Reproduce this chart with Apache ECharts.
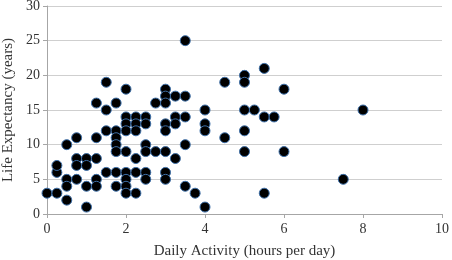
<!DOCTYPE html>
<html>
<head>
<meta charset="utf-8">
<script src="https://cdn.jsdelivr.net/npm/echarts@6/dist/echarts.min.js"></script>
<style>
  html, body { margin: 0; padding: 0; background: #fff; }
  #chart { width: 452px; height: 260px; }
</style>
</head>
<body>
<div id="chart"></div>
<script>
// hours per day, one entry per point
const activityHours = [
  0,
  0.25, 0.25, 0.25,
  0.5, 0.5, 0.5, 0.5,
  0.75, 0.75, 0.75, 0.75,
  1, 1, 1, 1,
  1.25, 1.25, 1.25, 1.25, 1.25,
  1.5, 1.5, 1.5, 1.5,
  1.75, 1.75, 1.75, 1.75, 1.75, 1.75, 1.75,
  2, 2, 2, 2, 2, 2, 2, 2, 2,
  2.25, 2.25, 2.25, 2.25, 2.25, 2.25,
  2.5, 2.5, 2.5, 2.5, 2.5, 2.5,
  2.75, 2.75,
  3, 3, 3, 3, 3, 3, 3, 3,
  3.25, 3.25, 3.25, 3.25,
  3.5, 3.5, 3.5, 3.5, 3.5,
  3.75,
  4, 4, 4, 4,
  4.5, 4.5,
  5, 5, 5, 5, 5,
  5.25,
  5.5, 5.5, 5.5,
  5.75,
  6, 6,
  7.5,
  8
]
// years, matching activityHours
const lifeYears = [
  3,
  3, 6, 7,
  10, 5, 4, 2,
  11, 8, 7, 5,
  8, 7, 4, 1,
  16, 11, 8, 5, 4,
  19, 15, 12, 6,
  16, 12, 11, 10, 9, 6, 4,
  18, 14, 13, 12, 9, 6, 5, 4, 3,
  14, 13, 12, 8, 6, 3,
  14, 13, 10, 9, 6, 5,
  16, 9,
  18, 17, 16, 13, 12, 9, 6, 5,
  17, 14, 13, 8,
  25, 17, 14, 10, 4,
  3,
  15, 13, 12, 1,
  19, 11,
  20, 19, 15, 12, 9,
  15,
  21, 14, 3,
  14,
  18, 9,
  5,
  15
]
const xTicks = [0, 2, 4, 6, 8, 10]
const yTicks = [0, 5, 10, 15, 20, 25, 30]

const points = activityHours.map((h, i) => [h, lifeYears[i]])
const font = 'Liberation Serif'

const chart = echarts.init(document.getElementById('chart'))
chart.setOption({
  animation: false,
  grid: {
    left: 47,
    right: 10,
    top: 6,
    bottom: 46,
    containLabel: false,
    outerBoundsMode: 'none'
  },
  xAxis: {
    type: 'value',
    min: xTicks[0],
    max: xTicks[xTicks.length - 1],
    interval: 2,
    name: 'Daily Activity (hours per day)',
    nameLocation: 'center',
    nameGap: 30,
    nameTextStyle: { color: '#333', fontFamily: font, fontSize: 15 },
    axisLine: { show: true, lineStyle: { color: '#a6a6a6' } },
    axisTick: { show: true, length: 4, lineStyle: { color: '#a6a6a6' } },
    axisLabel: { color: '#333', fontFamily: font, fontSize: 14, margin: 8 },
    splitLine: { show: false }
  },
  yAxis: {
    type: 'value',
    min: yTicks[0],
    max: yTicks[yTicks.length - 1],
    interval: 5,
    name: 'Life Expectancy (years)',
    nameLocation: 'center',
    nameGap: 27,
    nameTextStyle: { color: '#333', fontFamily: font, fontSize: 15 },
    axisLine: { show: true, lineStyle: { color: '#a6a6a6' } },
    axisTick: { show: true, length: 4, lineStyle: { color: '#a6a6a6' } },
    axisLabel: { color: '#333', fontFamily: font, fontSize: 14, margin: 7 },
    splitLine: { show: true, lineStyle: { color: '#cfcfcf' } }
  },
  series: [
    {
      type: 'scatter',
      data: points,
      symbol: 'circle',
      symbolSize: 10,
      itemStyle: {
        color: '#000000',
        opacity: 1,
        borderColor: '#3d6fa8',
        borderWidth: 1
      }
    }
  ]
})
</script>
</body>
</html>
